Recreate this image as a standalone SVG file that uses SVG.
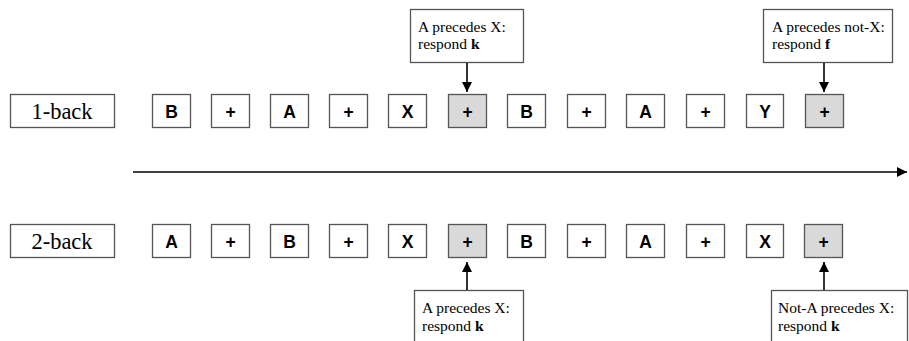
<svg xmlns="http://www.w3.org/2000/svg" width="909" height="341" viewBox="0 0 909 341">
<style>
.lbl{fill:#fff;stroke:#555;stroke-width:1.3}
.lt{font-family:"Liberation Serif",serif;font-size:22.5px;fill:#000;text-anchor:middle}
.sq{fill:#fff;stroke:#555;stroke-width:1.3}
.sq.g{fill:#d9d9d9}
.st{font-family:"Liberation Sans",Arial,sans-serif;font-weight:bold;font-size:17.5px;fill:#000;text-anchor:middle}
.co{fill:#fff;stroke:#555;stroke-width:1.3}
.ct{font-family:"Liberation Serif",serif;font-size:15.5px;fill:#000}
.ln{stroke:#000;stroke-width:1.6;fill:none}
</style>
<defs>
<marker id="ah" viewBox="0 0 10 10" refX="10" refY="5" markerWidth="10" markerHeight="11" markerUnits="userSpaceOnUse" orient="auto">
<path d="M0,0 L10,5 L0,10 Z" fill="#000"/>
</marker>
</defs>

<g id="label-1back"><rect class="lbl" x="10.5" y="94.5" width="104" height="33"/><text class="lt" x="62" y="119">1-back</text></g>
<g id="label-2back"><rect class="lbl" x="10.5" y="224.5" width="104" height="33"/><text class="lt" x="62" y="249">2-back</text></g>

<g id="r1-1"><rect class="sq" x="152.5" y="94.5" width="38" height="33"/><text class="st" x="171.5" y="117.5">B</text></g>
<g id="r1-2"><rect class="sq" x="211.5" y="94.5" width="38" height="33"/><text class="st" x="230.5" y="117.5">+</text></g>
<g id="r1-3"><rect class="sq" x="270.5" y="94.5" width="38" height="33"/><text class="st" x="289.5" y="117.5">A</text></g>
<g id="r1-4"><rect class="sq" x="329.5" y="94.5" width="38" height="33"/><text class="st" x="348.5" y="117.5">+</text></g>
<g id="r1-5"><rect class="sq" x="388.5" y="94.5" width="38" height="33"/><text class="st" x="407.5" y="117.5">X</text></g>
<g id="r1-6"><rect class="sq g" x="448.5" y="94.5" width="38" height="33"/><text class="st" x="467.5" y="117.5">+</text></g>
<g id="r1-7"><rect class="sq" x="507.5" y="94.5" width="38" height="33"/><text class="st" x="526.5" y="117.5">B</text></g>
<g id="r1-8"><rect class="sq" x="567.5" y="94.5" width="38" height="33"/><text class="st" x="586.5" y="117.5">+</text></g>
<g id="r1-9"><rect class="sq" x="626.5" y="94.5" width="38" height="33"/><text class="st" x="645.5" y="117.5">A</text></g>
<g id="r1-10"><rect class="sq" x="686.5" y="94.5" width="38" height="33"/><text class="st" x="705.5" y="117.5">+</text></g>
<g id="r1-11"><rect class="sq" x="746.5" y="94.5" width="37" height="33"/><text class="st" x="765" y="117.5">Y</text></g>
<g id="r1-12"><rect class="sq g" x="805.5" y="94.5" width="38" height="33"/><text class="st" x="824.5" y="117.5">+</text></g>

<g id="r2-1"><rect class="sq" x="152.5" y="224.5" width="38" height="33"/><text class="st" x="171.5" y="247.5">A</text></g>
<g id="r2-2"><rect class="sq" x="211.5" y="224.5" width="38" height="33"/><text class="st" x="230.5" y="247.5">+</text></g>
<g id="r2-3"><rect class="sq" x="270.5" y="224.5" width="38" height="33"/><text class="st" x="289.5" y="247.5">B</text></g>
<g id="r2-4"><rect class="sq" x="329.5" y="224.5" width="38" height="33"/><text class="st" x="348.5" y="247.5">+</text></g>
<g id="r2-5"><rect class="sq" x="388.5" y="224.5" width="38" height="33"/><text class="st" x="407.5" y="247.5">X</text></g>
<g id="r2-6"><rect class="sq g" x="448.5" y="224.5" width="38" height="33"/><text class="st" x="467.5" y="247.5">+</text></g>
<g id="r2-7"><rect class="sq" x="507.5" y="224.5" width="38" height="33"/><text class="st" x="526.5" y="247.5">B</text></g>
<g id="r2-8"><rect class="sq" x="567.5" y="224.5" width="38" height="33"/><text class="st" x="586.5" y="247.5">+</text></g>
<g id="r2-9"><rect class="sq" x="626.5" y="224.5" width="38" height="33"/><text class="st" x="645.5" y="247.5">A</text></g>
<g id="r2-10"><rect class="sq" x="686.5" y="224.5" width="38" height="33"/><text class="st" x="705.5" y="247.5">+</text></g>
<g id="r2-11"><rect class="sq" x="746.5" y="224.5" width="37" height="33"/><text class="st" x="765" y="247.5">X</text></g>
<g id="r2-12"><rect class="sq g" x="804.5" y="224.5" width="38" height="33"/><text class="st" x="823.5" y="247.5">+</text></g>

<g id="callout-top-1"><rect class="co" x="410.5" y="9.5" width="113" height="53"/><text class="ct" x="418" y="32">A precedes X:</text><text class="ct" x="418" y="49">respond <tspan font-weight="bold">k</tspan></text></g>
<g id="callout-top-2"><rect class="co" x="763.5" y="9.5" width="129" height="53"/><text class="ct" x="772" y="32">A precedes not-X:</text><text class="ct" x="772" y="49">respond <tspan font-weight="bold">f</tspan></text></g>
<g id="callout-bot-1"><rect class="co" x="414.5" y="290.5" width="109" height="60"/><text class="ct" x="422" y="313">A precedes X:</text><text class="ct" x="422" y="331">respond <tspan font-weight="bold">k</tspan></text></g>
<g id="callout-bot-2"><rect class="co" x="771.5" y="290.5" width="136" height="60"/><text class="ct" x="778" y="313">Not-A precedes X:</text><text class="ct" x="778" y="331">respond <tspan font-weight="bold">k</tspan></text></g>

<g id="connectors">
<line class="ln" x1="467" y1="63" x2="467" y2="92" marker-end="url(#ah)"/>
<line class="ln" x1="824" y1="63" x2="824" y2="92" marker-end="url(#ah)"/>
<line class="ln" x1="467" y1="290" x2="467" y2="262" marker-end="url(#ah)"/>
<line class="ln" x1="824" y1="290" x2="824" y2="262" marker-end="url(#ah)"/>
<line class="ln" x1="133" y1="172" x2="907" y2="172" marker-end="url(#ah)"/>
</g>
</svg>
